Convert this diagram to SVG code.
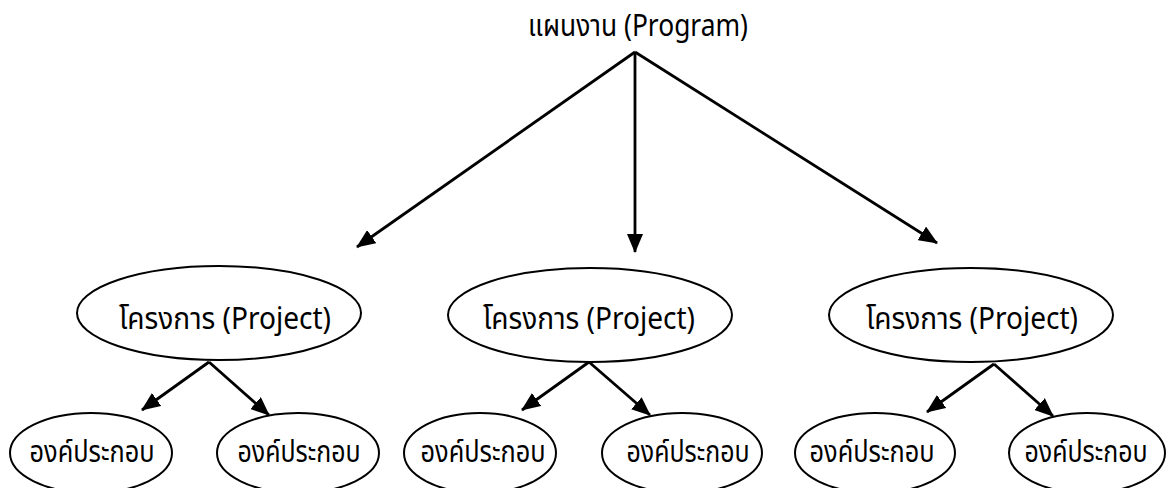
<svg xmlns="http://www.w3.org/2000/svg" width="1173" height="488" viewBox="0 0 1173 488">
<style>
.t{font-family:"Noto Sans Thai","Noto Sans","DejaVu Sans",sans-serif;font-size:30px;fill:#000;text-anchor:middle}
.e{fill:#fff;stroke:#000;stroke-width:2}
.c{stroke:#000;stroke-width:2.8;fill:none;marker-end:url(#ah)}
</style>
<defs>
<marker id="ah" markerUnits="userSpaceOnUse" markerWidth="19" markerHeight="16" refX="18" refY="8" orient="auto">
<path d="M0,0 L19,8 L0,16 z" fill="#000"/>
</marker>
</defs>
<rect width="1173" height="488" fill="#fff"/>
<g id="connectors">
<line class="c" x1="635" y1="52" x2="357" y2="247"/>
<line class="c" x1="635" y1="52" x2="635" y2="252"/>
<line class="c" x1="635" y1="52" x2="937" y2="243"/>
<line class="c" x1="209" y1="362" x2="142" y2="410"/>
<line class="c" x1="209" y1="362" x2="269" y2="415"/>
<line class="c" x1="589" y1="362" x2="522" y2="410"/>
<line class="c" x1="589" y1="362" x2="650" y2="415"/>
<line class="c" x1="994" y1="364" x2="927" y2="412"/>
<line class="c" x1="994" y1="364" x2="1053" y2="416"/>
</g>
<g id="program"><text class="t" x="638" y="36" textLength="220" lengthAdjust="spacingAndGlyphs">แผนงาน (Program)</text></g>
<g id="project1"><ellipse class="e" cx="219" cy="313" rx="142" ry="47"/><text class="t" x="225" y="329" textLength="212" lengthAdjust="spacingAndGlyphs">โครงการ (Project)</text></g>
<g id="project2"><ellipse class="e" cx="590" cy="315" rx="142" ry="47"/><text class="t" x="589" y="329" textLength="212" lengthAdjust="spacingAndGlyphs">โครงการ (Project)</text></g>
<g id="project3"><ellipse class="e" cx="971" cy="315" rx="142" ry="47"/><text class="t" x="972" y="329" textLength="212" lengthAdjust="spacingAndGlyphs">โครงการ (Project)</text></g>
<g id="comp1"><ellipse class="e" cx="91" cy="453" rx="81" ry="40"/><text class="t" x="92" y="462" textLength="125" lengthAdjust="spacingAndGlyphs">องค์ประกอบ</text></g>
<g id="comp2"><ellipse class="e" cx="298" cy="453" rx="81" ry="40"/><text class="t" x="299" y="462" textLength="123" lengthAdjust="spacingAndGlyphs">องค์ประกอบ</text></g>
<g id="comp3"><ellipse class="e" cx="480" cy="453" rx="76" ry="40"/><text class="t" x="483" y="462" textLength="125" lengthAdjust="spacingAndGlyphs">องค์ประกอบ</text></g>
<g id="comp4"><ellipse class="e" cx="682" cy="453" rx="80" ry="40"/><text class="t" x="688" y="462" textLength="123" lengthAdjust="spacingAndGlyphs">องค์ประกอบ</text></g>
<g id="comp5"><ellipse class="e" cx="875" cy="453" rx="80" ry="40"/><text class="t" x="872" y="462" textLength="125" lengthAdjust="spacingAndGlyphs">องค์ประกอบ</text></g>
<g id="comp6"><ellipse class="e" cx="1087" cy="453" rx="78" ry="40"/><text class="t" x="1086" y="462" textLength="123" lengthAdjust="spacingAndGlyphs">องค์ประกอบ</text></g>
</svg>
